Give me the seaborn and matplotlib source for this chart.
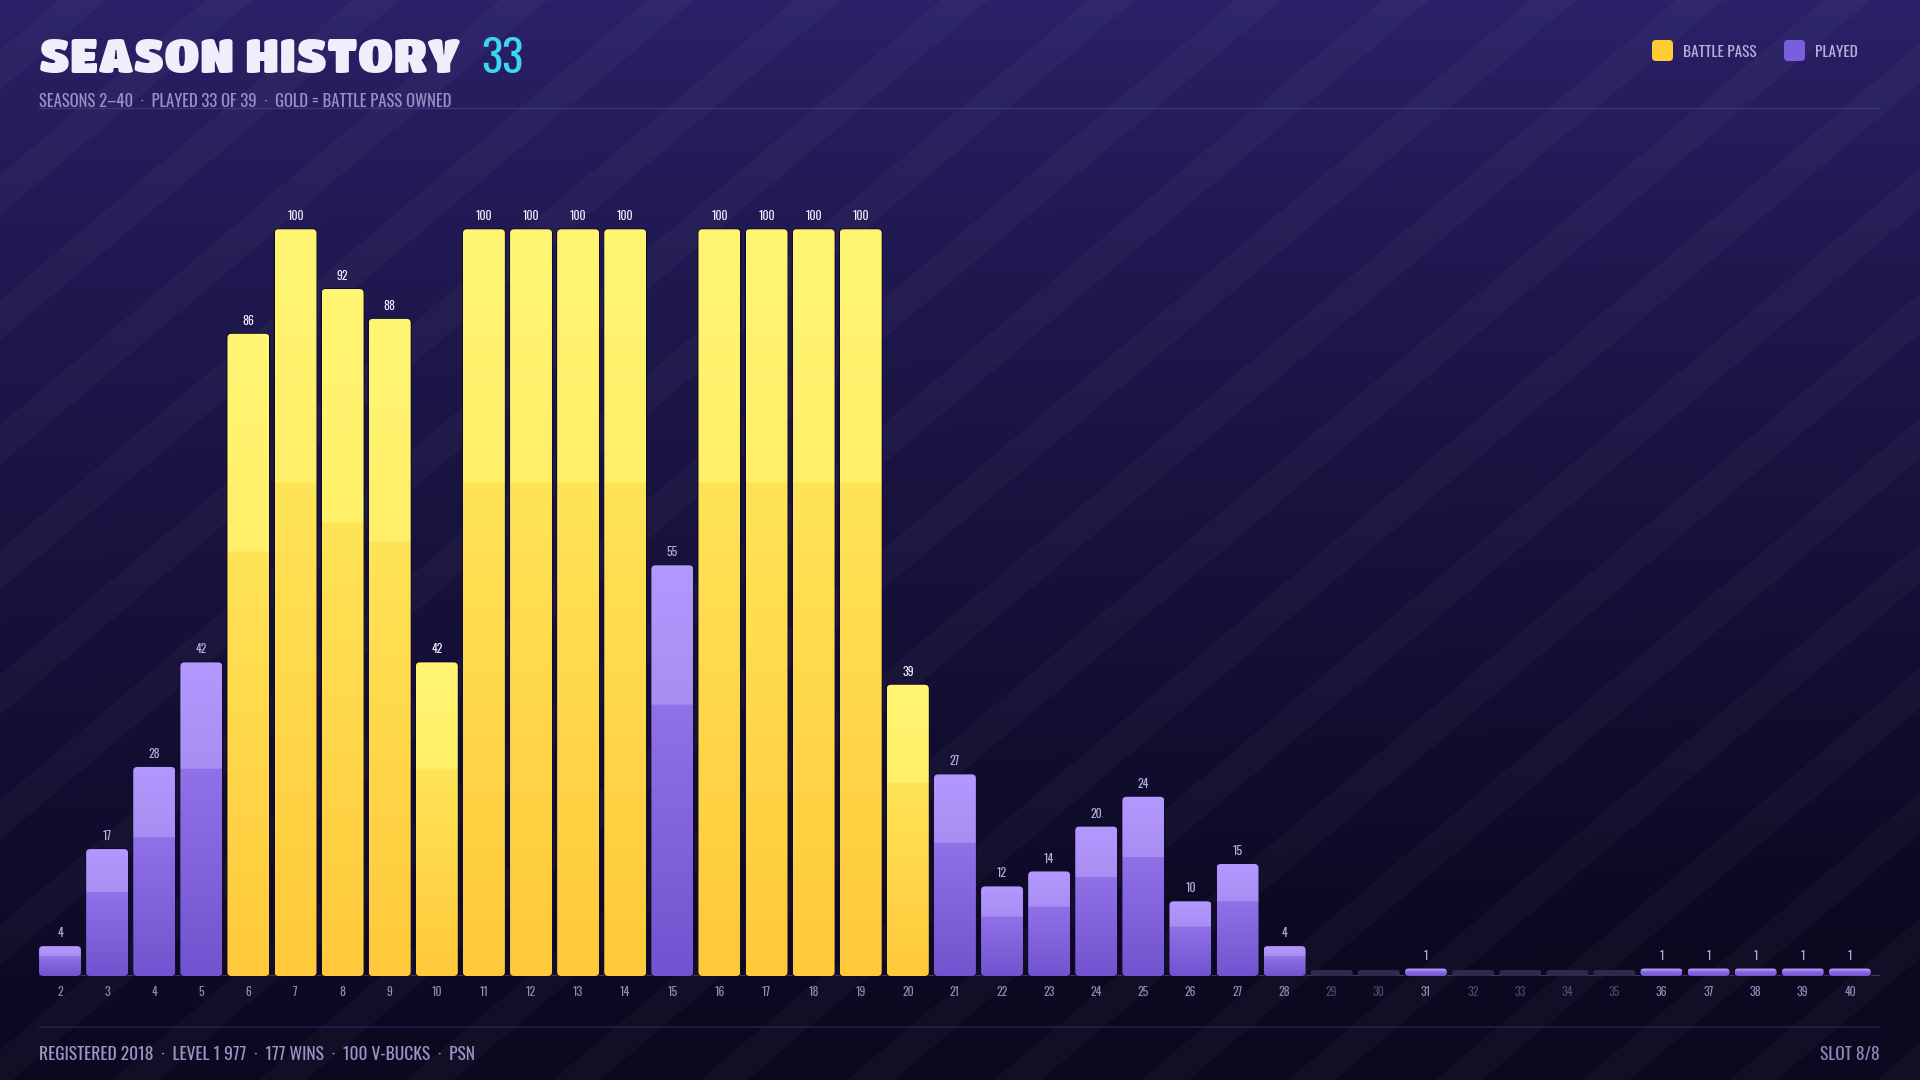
import numpy as np
import pandas as pd
import matplotlib
matplotlib.use('Agg')
import matplotlib.pyplot as plt
from matplotlib.patches import FancyBboxPatch, Polygon
from matplotlib.colors import to_rgb
import seaborn as sns

# --- data -------------------------------------------------------------
seasons = list(range(2, 41))
levels = [4, 17, 28, 42, 86, 100, 92, 88, 42, 100, 100, 100, 100, 55, 100,
          100, 100, 100, 39, 27, 12, 14, 20, 24, 10, 15, 4, 0, 0, 1,
          0, 0, 0, 0, 1, 1, 1, 1, 1]
battle_pass_seasons = [6, 7, 8, 9, 10, 11, 12, 13, 14, 16, 17, 18, 19, 20]

title = 'SEASON HISTORY'
title_count = '33'
subtitle = 'SEASONS 2\u201340  \u00b7  PLAYED 33 OF 39  \u00b7  GOLD = BATTLE PASS OWNED'
footer_left = 'REGISTERED 2018  \u00b7  LEVEL 1 977  \u00b7  177 WINS  \u00b7  100 V-BUCKS  \u00b7  PSN'
footer_right = 'SLOT 8/8'

STUB = 0.8  # placeholder height for unplayed seasons

df = pd.DataFrame({'season': [str(s) for s in seasons], 'level': levels})
df['kind'] = ['bp' if s in battle_pass_seasons else ('played' if v > 0 else 'none')
              for s, v in zip(seasons, levels)]
df['shown'] = np.where(df.level == 0, STUB, df.level)

sns.set_theme(style='dark')
COND = ['Oswald', 'DejaVu Sans']
HEAVY = ['Titan One', 'Luckiest Guy', 'Archivo Black', 'DejaVu Sans']
plt.rcParams['font.family'] = COND

W, H = 1920, 1080
fig = plt.figure(figsize=(19.2, 10.8), dpi=100)

# --- background ---------------------------------------------------------
bg = fig.add_axes([0, 0, 1, 1], zorder=0)
bg.set_xlim(0, W)
bg.set_ylim(H, 0)
bg.axis('off')
top_c = np.array(to_rgb('#2b2169'))
bot_c = np.array(to_rgb('#0b0820'))
yy = np.linspace(0, 1, 256)[:, None, None]
xx = np.linspace(0, 1, 256)[None, :, None]
t = np.clip(yy ** 0.8 + 0.12 * xx * yy, 0, 1)
grad = top_c * (1 - t) + bot_c * t
bg.imshow(grad, extent=(0, W, H, 0), aspect='auto', zorder=0)
s = 0.85
for c in range(-200, 3000, 125):
    band = Polygon([(0, c), (W, c - s * W), (W, c - s * W + 40), (0, c + 40)],
                   closed=True, facecolor='white', alpha=0.028, lw=0, zorder=1)
    bg.add_patch(band)

bg.text(39, 73, title, color='#f1eefb', fontsize=34, family=HEAVY,
        va='baseline', ha='left', zorder=5)
bg.text(481, 73, title_count, color='#3dd6f2', fontsize=32, va='baseline',
        ha='left', zorder=5)
bg.text(39, 107, subtitle, color='#9a90c6', fontsize=12, va='baseline',
        ha='left', zorder=5)
bg.plot([39, 1880], [108, 108], color='#3d3478', lw=1, zorder=4)
bg.plot([39, 1880], [1027, 1027], color='#241d48', lw=1.2, zorder=4)
bg.text(39, 1060, footer_left, color='#9d94c4', fontsize=12.5, va='baseline',
        ha='left', zorder=5)
bg.text(1880, 1060, footer_right, color='#8f86b8', fontsize=12.5, va='baseline',
        ha='right', zorder=5)

for x0, col, lab in [(1652, '#ffcc33', 'BATTLE PASS'), (1784, '#7a5ee0', 'PLAYED')]:
    sq = FancyBboxPatch((x0, 40), 21, 21, boxstyle='round,pad=0,rounding_size=4',
                        facecolor=col, edgecolor='none', zorder=5)
    bg.add_patch(sq)
    bg.text(x0 + 31, 57, lab, color='#b7aee0', fontsize=11, va='baseline',
            ha='left', zorder=5)

# --- bars ---------------------------------------------------------------
ax = fig.add_axes([39 / W, 104 / H, 1841 / W, 796 / H], zorder=2)
ax.patch.set_alpha(0)
palette = {'bp': '#ffcc33', 'played': '#7a5ee0', 'none': '#2f2a4a'}
sns.barplot(data=df, x='season', y='shown', hue='kind', palette=palette,
            dodge=False, width=0.89, ax=ax, legend=False,
            order=df.season.tolist())

ax.set_xlim(-0.446, 38.64)
ax.set_ylim(0, 106.6)
aspect = (1841 / 39.086) / (796 / 106.6)

def gradient(stops, split=0.34, n=256):
    c0, c1, c2, c3 = [np.array(to_rgb(c)) for c in stops]
    tt = np.linspace(0, 1, n)
    rows = []
    for v in tt:
        if v < split:
            f = v / split
            rows.append(c0 * (1 - f) + c1 * f)
        else:
            f = (v - split) / (1 - split)
            rows.append(c2 * (1 - f) + c3 * f)
    return np.array(rows)[:, None, :]

grads = {
    'bp': gradient(['#fff673', '#ffef69', '#ffe457', '#ffc93b']),
    'played': gradient(['#b398ff', '#a88ef2', '#9071e8', '#7153cf']),
}

kinds = df.kind.tolist()
for p in list(ax.patches):
    x, y = p.get_x(), p.get_y()
    w, h = p.get_width(), p.get_height()
    p.remove()
    if h <= 0:
        continue
    i = int(round(x + w / 2))
    rs = min(0.085, h / (2.2 * aspect))
    kind = kinds[i]
    face = '#2f2a4a' if kind == 'none' else '#0b0718'
    shape = FancyBboxPatch((x, y), w, h,
                           boxstyle=f'round,pad=0,rounding_size={rs}',
                           mutation_aspect=aspect, facecolor=face,
                           edgecolor='#120c2a' if kind != 'none' else 'none',
                           lw=1.4, zorder=2)
    ax.add_patch(shape)
    if kind != 'none':
        im = ax.imshow(grads[kind], extent=(x, x + w, y, y + h), origin='upper',
                       aspect='auto', zorder=3)
        im.set_clip_path(shape)

for i, (v, kind) in enumerate(zip(df.level, kinds)):
    if v == 0:
        continue
    ax.annotate(str(v), (i, v), xytext=(0, 5), textcoords='offset points',
                ha='center', va='bottom', fontsize=8.5,
                color='#f3f0ff' if kind == 'bp' else '#b9addf', zorder=4)

ax.axhline(0, color='#4a4270', lw=1.2, zorder=1)
ax.set_xticks(range(len(seasons)))
ax.set_xticklabels(df.season.tolist(), fontsize=8.5)
for lbl, v in zip(ax.get_xticklabels(), df.level):
    lbl.set_color('#928ab8' if v > 0 else '#4d4672')
ax.tick_params(axis='x', length=0, pad=7)
ax.set_yticks([])
ax.set_xlabel('')
ax.set_ylabel('')
for sp in ax.spines.values():
    sp.set_visible(False)

fig.savefig('out.png', dpi=100)
